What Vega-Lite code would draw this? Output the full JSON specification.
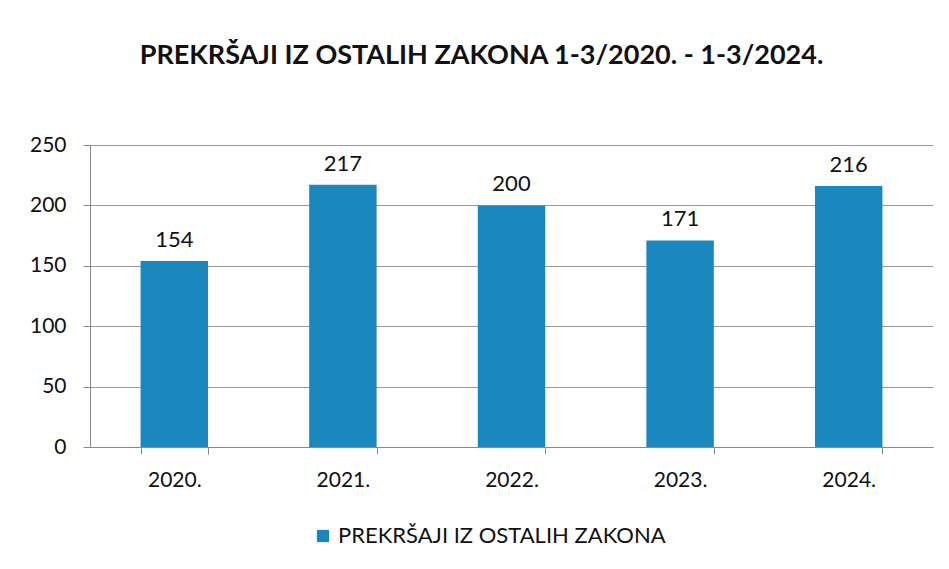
{
  "$schema": "https://vega.github.io/schema/vega-lite/v6.json",
  "width": 843,
  "height": 302,
  "autosize": {"type": "none"},
  "padding": {"left": 90, "top": 145, "right": 16, "bottom": 122},
  "background": "white",
  "config": {
    "font": "Lato",
    "view": {"stroke": null}
  },
  "title": {
    "text": "PREKRŠAJI IZ OSTALIH ZAKONA 1-3/2020. - 1-3/2024.",
    "fontSize": 27,
    "fontWeight": "bold",
    "color": "#111111",
    "anchor": "middle",
    "frame": "group",
    "dx": -30,
    "offset": 64
  },
  "data": {
    "values": [
      {"godina": "2020.", "broj": 154},
      {"godina": "2021.", "broj": 217},
      {"godina": "2022.", "broj": 200},
      {"godina": "2023.", "broj": 171},
      {"godina": "2024.", "broj": 216}
    ]
  },
  "encoding": {
    "x": {
      "field": "godina",
      "type": "nominal",
      "sort": null,
      "title": null,
      "scale": {"paddingInner": 0.6, "paddingOuter": 0.3},
      "axis": {
        "labelAngle": 0,
        "labelFontSize": 21,
        "labelColor": "#111111",
        "labelPadding": 15,
        "domainColor": "#8a8a8a",
        "tickColor": "#8a8a8a",
        "tickSize": 7,
        "tickBand": "extent",
        "grid": false
      }
    },
    "y": {
      "field": "broj",
      "type": "quantitative",
      "title": null,
      "scale": {"domain": [0, 250]},
      "axis": {
        "values": [0, 50, 100, 150, 200, 250],
        "labelFontSize": 21,
        "labelColor": "#111111",
        "labelPadding": 17,
        "domainColor": "#8a8a8a",
        "tickColor": "#8a8a8a",
        "tickSize": 7,
        "gridColor": "#9a9a9a",
        "gridWidth": 1
      }
    }
  },
  "layer": [
    {
      "mark": {"type": "bar"},
      "encoding": {
        "color": {
          "datum": "PREKRŠAJI IZ OSTALIH ZAKONA",
          "type": "nominal",
          "scale": {"range": ["#1b87bf"]},
          "legend": {
            "title": null,
            "orient": "none",
            "legendX": 222,
            "legendY": 380,
            "symbolType": "square",
            "symbolSize": 150,
            "symbolStrokeWidth": 0,
            "labelFontSize": 22,
            "labelColor": "#111111",
            "labelLimit": 600
          }
        }
      }
    },
    {
      "mark": {"type": "text", "dy": -21, "fontSize": 22, "color": "#111111"},
      "encoding": {
        "text": {"field": "broj", "type": "quantitative"}
      }
    }
  ]
}
